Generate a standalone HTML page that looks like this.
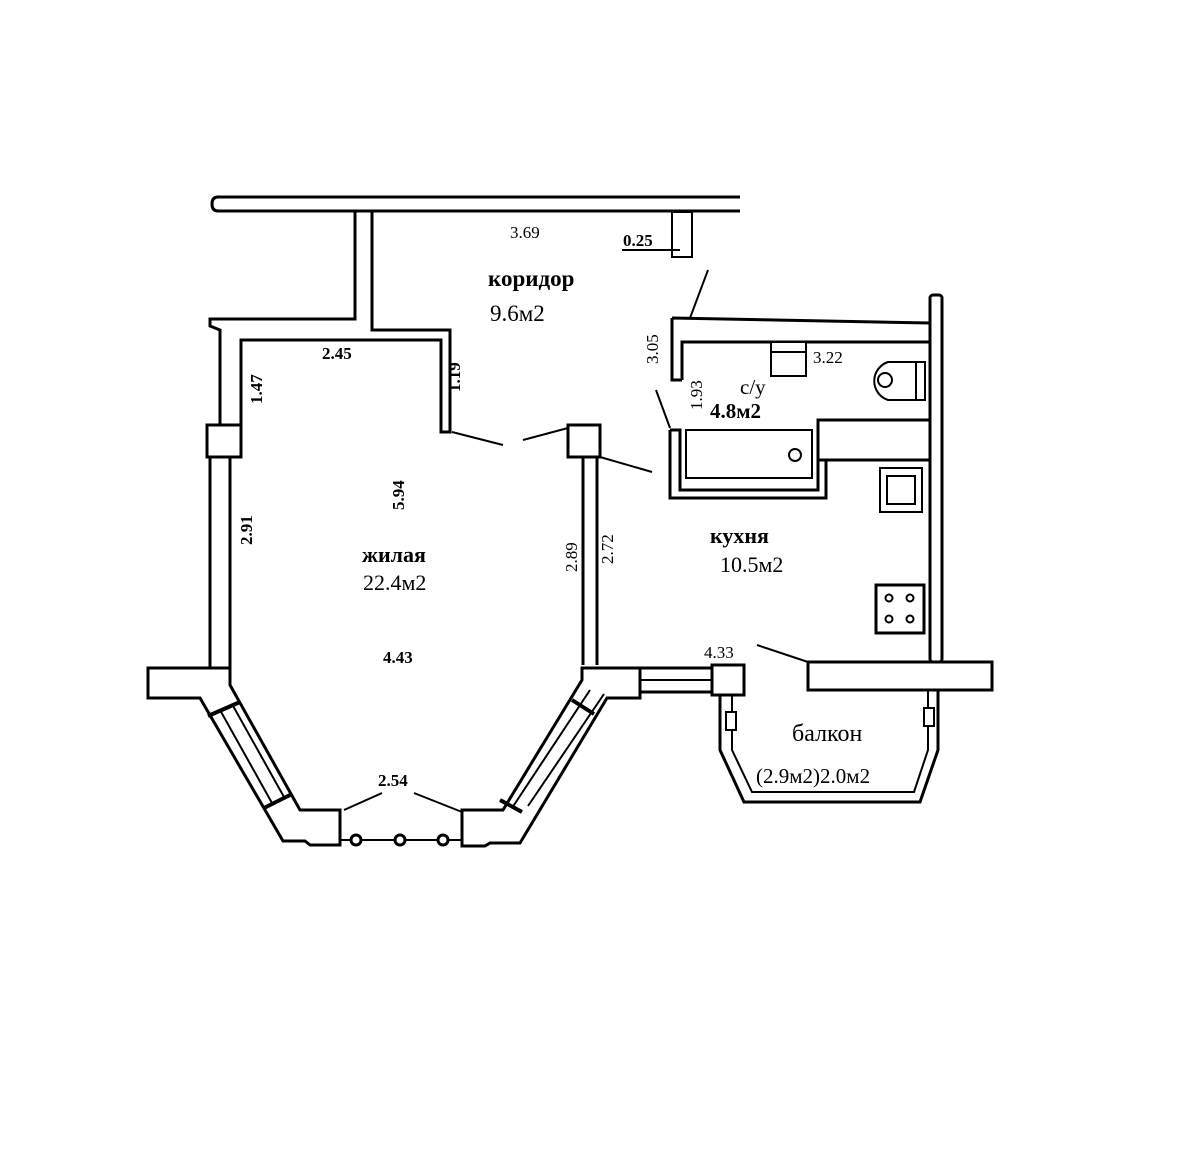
<!DOCTYPE html>
<html><head><meta charset="utf-8"><style>
html,body{margin:0;padding:0;background:#fff;}
svg{display:block}
text{font-family:"Liberation Serif","DejaVu Serif",serif;fill:#000}
</style></head><body>
<svg width="1181" height="1154" viewBox="0 0 1181 1154" xmlns="http://www.w3.org/2000/svg">
<g fill="#fff" stroke="#000" stroke-width="3" stroke-linejoin="miter">
<path d="M740 197 L218 197 Q212 197 212 204 Q212 211 218 211 L740 211" />
<path d="M355 212 L355 319 L210 319 L210 326 L220 330 L220 425 M241 425 L241 340 L441 340 L441 432 L450 432 L450 330 L372 330 L372 212" />
<rect x="207" y="425" width="34" height="32"/>
<path d="M210 457 L210 668 M230 457 L230 668"/>
<path d="M148 668 L230 668 L230 685 L300 810 L340 810 L340 845 L310 845 L305 841 L283 841 L200 698 L148 698 Z"/>
<path d="M220 710 L272 803 M232 704 L284 797" fill="none" stroke-width="2"/>
<path d="M208 716 L240 702 M264 808 L292 794" fill="none" stroke-width="4"/>
<line x1="340" y1="840" x2="462" y2="840" stroke-width="2"/>
<circle cx="356" cy="840" r="5"/><circle cx="400" cy="840" r="5"/><circle cx="443" cy="840" r="5"/>
<path d="M462 810 L503 810 L582 680 L582 668 L640 668 L640 698 L607 698 L520 843 L490 843 L485 846 L462 846 Z"/>
<path d="M512 808 L590 690 M528 806 L604 694" fill="none" stroke-width="2"/>
<path d="M500 800 L522 812 M572 700 L594 714" fill="none" stroke-width="4"/>
<rect x="640" y="668" width="72" height="24"/>
<line x1="640" y1="680" x2="712" y2="680" stroke-width="2"/>
<rect x="712" y="665" width="32" height="30"/>
<rect x="568" y="425" width="32" height="32"/>
<path d="M583 457 L583 665 M597 457 L597 665" fill="none"/>
<rect x="930" y="295" width="12" height="367" rx="3"/>
<rect x="808" y="662" width="184" height="28"/>
<path d="M720 695 L720 750 L744 802 L920 802 L938 750 L938 690" fill="none"/>
<path d="M732 695 L732 750 L752 792 L914 792 L928 750 L928 690" fill="none" stroke-width="2"/>
<rect x="726" y="712" width="10" height="18" stroke-width="2"/>
<rect x="924" y="708" width="10" height="18" stroke-width="2"/>
<path d="M672 318 L930 323 M682 380 L672 380 L672 318 M682 380 L682 342 L930 342" fill="none"/>
<rect x="771" y="342" width="35" height="34" stroke-width="2"/>
<line x1="771" y1="352" x2="806" y2="352" stroke-width="2"/>
<path d="M925 362 L888 362 A20 20 0 0 0 888 400 L925 400 Z" stroke-width="2"/>
<line x1="916" y1="362" x2="916" y2="400" stroke-width="2"/>
<circle cx="885" cy="380" r="7" stroke-width="2"/>
<path d="M818 460 L818 420 L930 420 M818 460 L930 460" fill="none"/>
<path d="M670 430 L680 430 L680 490 L818 490 L818 460 M670 430 L670 498 L826 498 L826 460" fill="none"/>
<rect x="686" y="430" width="126" height="48" stroke-width="2"/>
<circle cx="795" cy="455" r="6" stroke-width="2"/>
<rect x="672" y="212" width="20" height="45" stroke-width="2"/>
<line x1="622" y1="250" x2="680" y2="250" stroke-width="2"/>
<rect x="880" y="468" width="42" height="44" stroke-width="2"/>
<rect x="887" y="476" width="28" height="28" stroke-width="2"/>
<rect x="876" y="585" width="48" height="48" stroke-width="3"/>
<circle cx="889" cy="598" r="3.5" stroke-width="2"/><circle cx="910" cy="598" r="3.5" stroke-width="2"/>
<circle cx="889" cy="619" r="3.5" stroke-width="2"/><circle cx="910" cy="619" r="3.5" stroke-width="2"/>
<g stroke-width="2" fill="none">
<line x1="452" y1="432" x2="503" y2="445"/>
<line x1="523" y1="440" x2="568" y2="428"/>
<line x1="600" y1="457" x2="652" y2="472"/>
<line x1="708" y1="270" x2="690" y2="318"/>
<line x1="656" y1="390" x2="670" y2="428"/>
<line x1="757" y1="645" x2="808" y2="662"/>
<line x1="344" y1="810" x2="382" y2="793"/>
<line x1="414" y1="793" x2="462" y2="812"/>
</g>
</g>
<g font-size="17">
<text x="510" y="238">3.69</text>
<text x="623" y="246" font-weight="bold">0.25</text>
<text x="488" y="286" font-size="23" font-weight="bold">коридор</text>
<text x="490" y="321" font-size="23">9.6м2</text>
<text x="322" y="359" font-weight="bold">2.45</text>
<text transform="translate(460,392) rotate(-90)" font-weight="bold">1.19</text>
<text transform="translate(262,404) rotate(-90)" font-weight="bold">1.47</text>
<text transform="translate(404,510) rotate(-90)" font-weight="bold">5.94</text>
<text transform="translate(252,545) rotate(-90)" font-weight="bold">2.91</text>
<text x="362" y="562" font-size="22" font-weight="bold">жилая</text>
<text x="363" y="590" font-size="22">22.4м2</text>
<text x="383" y="663" font-weight="bold">4.43</text>
<text transform="translate(577,572) rotate(-90)">2.89</text>
<text transform="translate(613,564) rotate(-90)">2.72</text>
<text x="710" y="543" font-size="22" font-weight="bold">кухня</text>
<text x="720" y="572" font-size="22">10.5м2</text>
<text x="704" y="658">4.33</text>
<text x="792" y="741" font-size="24">балкон</text>
<text x="756" y="783" font-size="21">(2.9м2)2.0м2</text>
<text x="378" y="786" font-weight="bold">2.54</text>
<text transform="translate(658,364) rotate(-90)">3.05</text>
<text transform="translate(702,410) rotate(-90)">1.93</text>
<text x="813" y="363">3.22</text>
<text x="740" y="394" font-size="21">с/у</text>
<text x="710" y="418" font-size="21" font-weight="bold">4.8м2</text>
</g>
</svg>
</body></html>
